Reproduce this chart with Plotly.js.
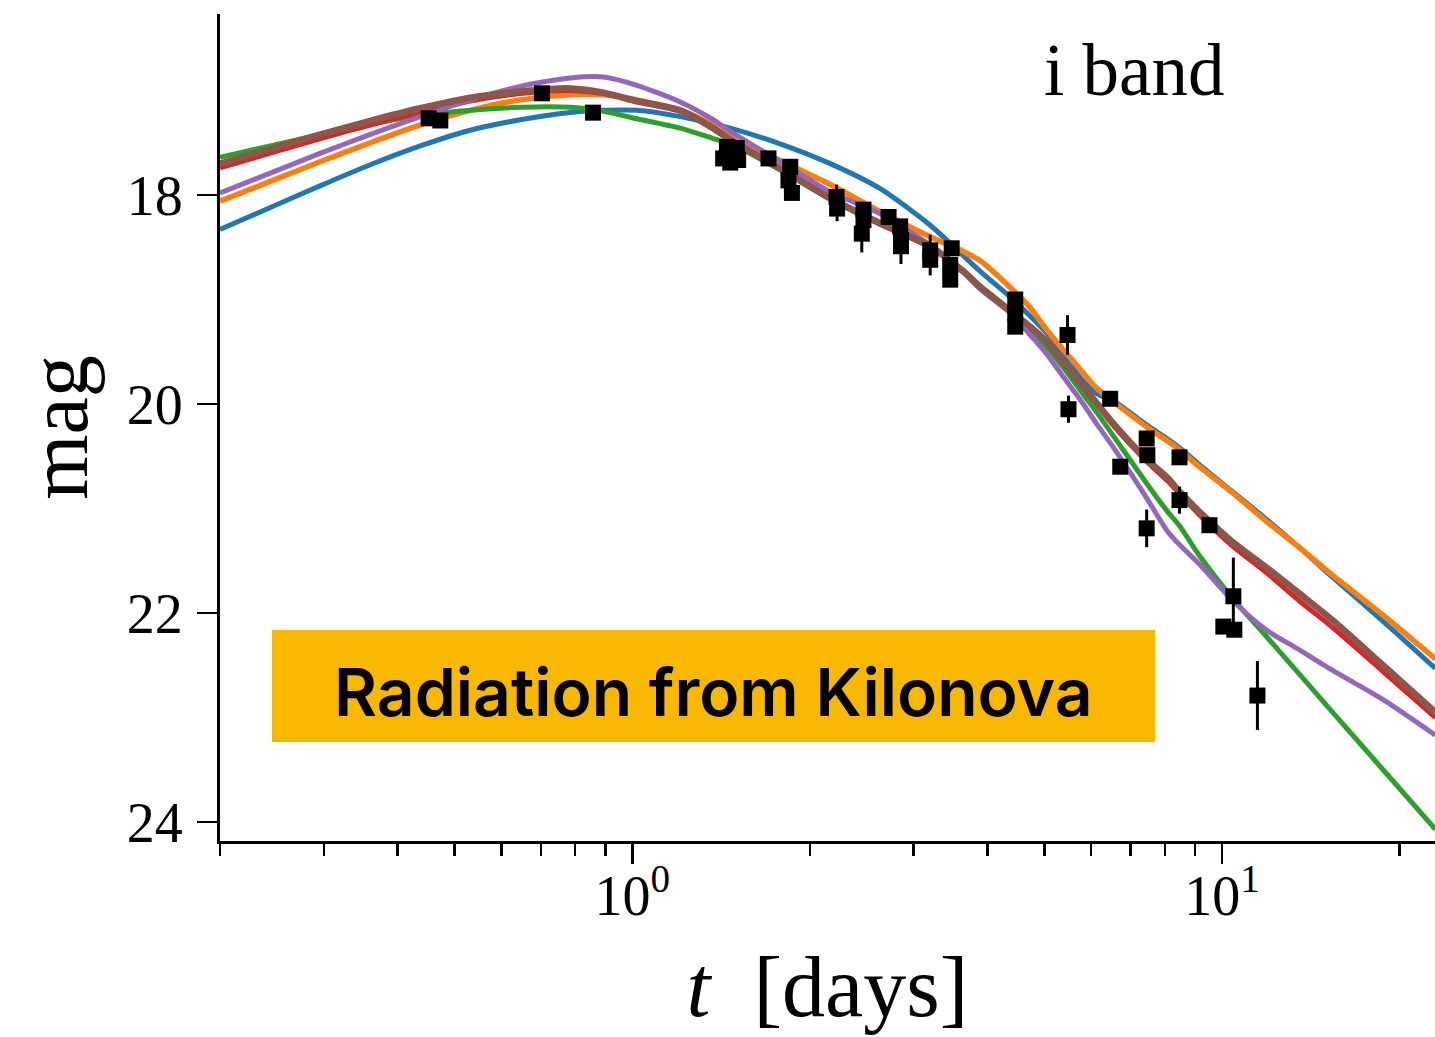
<!DOCTYPE html>
<html>
<head>
<meta charset="utf-8">
<script src="https://cdn.plot.ly/plotly-3.0.1.min.js"></script>
<style>html,body{margin:0;padding:0;background:#fff;}#chart{width:1435px;height:1037px;}</style>
</head>
<body>
<div id="chart"></div>
<script>
// time grid (days) for the model curves
const tModel = [0.2, 0.2434, 0.2962, 0.3597, 0.4372, 0.5315, 0.6458, 0.7851, 0.894, 1.018, 1.206, 1.372, 1.466, 1.781, 2.166, 2.633, 3.20, 3.64, 3.89, 4.42, 4.73, 5.04, 5.38, 5.75, 6.13, 6.55, 7.45, 8.06, 8.48, 9.15, 10.42, 11.87, 13.5, 15.4, 18.75, 23.0];

const magBlue   = [18.33, 18.12, 17.91, 17.71, 17.53, 17.38, 17.28, 17.21, 17.19, 17.19, 17.25, 17.32, 17.36, 17.51, 17.70, 17.94, 18.29, 18.58, 18.73, 19.00, 19.16, 19.32, 19.52, 19.75, 19.90, 19.97, 20.20, 20.33, 20.42, 20.58, 20.84, 21.10, 21.37, 21.66, 22.08, 22.53];
const magOrange = [18.06, 17.87, 17.68, 17.50, 17.33, 17.19, 17.09, 17.04, 17.04, 17.09, 17.19, 17.33, 17.43, 17.67, 17.90, 18.16, 18.40, 18.54, 18.63, 18.91, 19.08, 19.29, 19.48, 19.67, 19.85, 19.98, 20.22, 20.35, 20.44, 20.60, 20.85, 21.12, 21.37, 21.64, 22.02, 22.44];
const magGreen  = [17.64, 17.53, 17.42, 17.32, 17.24, 17.19, 17.16, 17.16, 17.20, 17.27, 17.36, 17.46, 17.51, 17.76, 18.04, 18.28, 18.50, 18.72, 18.87, 19.12, 19.29, 19.45, 19.65, 19.87, 20.08, 20.31, 20.76, 21.02, 21.17, 21.45, 21.86, 22.22, 22.58, 22.95, 23.50, 24.07];
const magRed    = [17.74, 17.60, 17.46, 17.33, 17.21, 17.10, 17.03, 17.00, 17.03, 17.11, 17.20, 17.37, 17.48, 17.755, 18.04, 18.28, 18.50, 18.74, 18.89, 19.14, 19.27, 19.41, 19.61, 19.81, 20.00, 20.21, 20.55, 20.73, 20.86, 21.06, 21.36, 21.61, 21.88, 22.14, 22.56, 23.00];
const magPurple = [17.98, 17.79, 17.60, 17.42, 17.25, 17.09, 16.96, 16.88, 16.87, 16.95, 17.11, 17.28, 17.39, 17.68, 17.97, 18.18, 18.48, 18.73, 18.90, 19.15, 19.34, 19.52, 19.74, 19.96, 20.19, 20.42, 20.90, 21.21, 21.35, 21.53, 21.88, 22.16, 22.35, 22.55, 22.83, 23.17];
const magBrown  = [17.70, 17.56, 17.42, 17.29, 17.17, 17.07, 17.01, 16.98, 17.02, 17.10, 17.19, 17.36, 17.47, 17.745, 18.03, 18.27, 18.49, 18.73, 18.88, 19.13, 19.26, 19.40, 19.60, 19.80, 19.99, 20.19, 20.53, 20.70, 20.84, 21.03, 21.32, 21.56, 21.81, 22.07, 22.50, 22.95];

// observed i-band photometry
const tObs   = [0.4516, 0.4727, 0.7029, 0.858, 1.426, 1.447, 1.466, 1.504, 1.512, 1.702, 1.853, 1.84, 1.865, 2.22, 2.225, 2.466, 2.466, 2.45, 2.72, 2.846, 2.855, 2.855, 3.2, 3.2, 3.48, 3.46, 3.46, 4.46, 4.46, 4.46, 5.47, 5.49, 6.46, 7.45, 7.47, 6.72, 8.47, 8.47, 7.45, 9.52, 10.45, 10.05, 10.49, 11.48];
const magObs = [17.266, 17.287, 17.027, 17.212, 17.65, 17.54, 17.69, 17.55, 17.665, 17.65, 17.73, 17.86, 17.98, 18.02, 18.13, 18.14, 18.24, 18.37, 18.21, 18.30, 18.43, 18.49, 18.53, 18.62, 18.51, 18.67, 18.81, 19.00, 19.13, 19.26, 19.34, 20.05, 19.95, 20.33, 20.49, 20.60, 20.51, 20.92, 21.19, 21.16, 21.84, 22.13, 22.16, 22.79];
const errObs = [0, 0, 0, 0, 0, 0, 0.05, 0, 0, 0, 0, 0, 0.05, 0.12, 0.12, 0, 0, 0.18, 0, 0, 0.1, 0.17, 0.15, 0.15, 0, 0, 0.06, 0, 0, 0.04, 0.19, 0.13, 0, 0, 0, 0.05, 0, 0.13, 0.18, 0, 0.37, 0, 0.07, 0.33];

const xMajor = [1, 10];
const xMajorText = ['10<sup>0</sup>', '10<sup>1</sup>'];
const xMinor = [0.2, 0.3, 0.4, 0.5, 0.6, 0.7, 0.8, 0.9, 2, 3, 4, 5, 6, 7, 8, 9, 20];
const yTicks = [18, 20, 22, 24];

const bandLabel = 'i band';
const boxLabel = 'Radiation from Kilonova';

// ---- layout geometry (pixels) ----
const W = 1435, H = 1037;
const L = 220, R = 0, T = 14, B = 196;
const pw = W - L - R, ph = H - T - B;
const px2x = p => (p - L) / pw;
const px2y = p => (H - B - p) / ph;

const serif = 'Liberation Serif, Times New Roman, serif';

const curves = [
  {y: magBlue,   c: '#1f77b4', w: 5},
  {y: magOrange, c: '#ff7f0e', w: 5.5},
  {y: magGreen,  c: '#2ca02c', w: 5},
  {y: magRed,    c: '#d62728', w: 5},
  {y: magPurple, c: '#9467bd', w: 5},
  {y: magBrown,  c: '#8c564b', w: 6.5}
];

const traces = curves.map(k => ({
  x: tModel, y: k.y, type: 'scatter', mode: 'lines',
  line: {color: k.c, width: k.w, shape: 'spline', smoothing: 0.7},
  hoverinfo: 'skip', showlegend: false
}));

traces.push({
  x: tObs, y: magObs, type: 'scatter', mode: 'markers',
  marker: {symbol: 'square', size: 16, color: '#000'},
  error_y: {type: 'data', array: errObs, visible: true, color: '#000', thickness: 3, width: 0},
  showlegend: false
});

const layout = {
  width: W, height: H,
  margin: {l: L, r: R, t: T, b: B, pad: 0},
  paper_bgcolor: '#fff', plot_bgcolor: '#fff',
  showlegend: false,
  xaxis: {
    type: 'log',
    range: [Math.log10(0.2), (1435 - 632) / 590],
    showline: true, linecolor: '#000', linewidth: 3, mirror: false,
    showgrid: false, zeroline: false,
    ticks: 'outside', ticklen: 20, tickwidth: 2.5, tickcolor: '#000',
    tickmode: 'array', tickvals: xMajor, ticktext: xMajorText,
    ticklabelstandoff: -16,
    tickfont: {family: serif, size: 56, color: '#000'},
    minor: {tickmode: 'array', tickvals: xMinor, ticks: 'outside', ticklen: 12, tickwidth: 2.5, tickcolor: '#000', showgrid: false},
    title: {text: '<i>t</i>\u00a0 [days]', font: {family: serif, size: 86, color: '#000'}, standoff: 30},
    automargin: false
  },
  yaxis: {
    range: [24 + (841 - 822) / 104.5, 18 - (195 - 14) / 104.5],
    showline: true, linecolor: '#000', linewidth: 3, mirror: false,
    showgrid: false, zeroline: false,
    ticks: 'outside', ticklen: 20, tickwidth: 2.5, tickcolor: '#000',
    tickmode: 'array', tickvals: yTicks,
    ticklabelstandoff: 3,
    tickfont: {family: serif, size: 56, color: '#000'},
    title: {text: 'mag', font: {family: serif, size: 84, color: '#000'}, standoff: 12},
    automargin: false
  },
  shapes: [{
    type: 'rect', xref: 'paper', yref: 'paper',
    x0: px2x(272), x1: px2x(1155), y0: px2y(742), y1: px2y(630),
    fillcolor: '#F8B800', line: {width: 0}, layer: 'above'
  }],
  annotations: [
    {xref: 'paper', yref: 'paper', x: px2x(1042), y: px2y(70), xanchor: 'left', yanchor: 'middle',
     text: bandLabel, showarrow: false, font: {family: serif, size: 73, color: '#000'}},
    {xref: 'paper', yref: 'paper', x: px2x(713), y: px2y(692), xanchor: 'center', yanchor: 'middle',
     text: boxLabel, showarrow: false, font: {family: 'Inter, Noto Sans, sans-serif', size: 66, color: '#000', weight: 600}}
  ]
};

Plotly.newPlot('chart', traces, layout, {displayModeBar: false, staticPlot: true});
</script>
</body>
</html>
